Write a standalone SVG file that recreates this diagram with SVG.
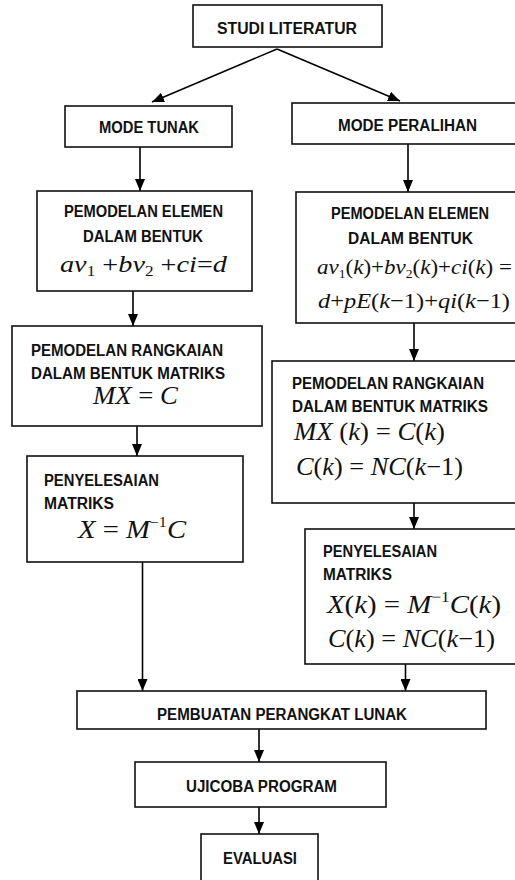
<svg xmlns="http://www.w3.org/2000/svg" width="515" height="880" viewBox="0 0 515 880">
<defs>
<marker id="ah" markerUnits="userSpaceOnUse" viewBox="0 0 12 10" refX="12" refY="5" markerWidth="12" markerHeight="10" orient="auto">
<path d="M0,0 L12,5 L0,10 z" fill="#000"/>
</marker>
</defs>
<style>
rect{fill:#fff;stroke:#111;stroke-width:1.6}
.t{font-family:"Liberation Sans",Arial,sans-serif;font-weight:bold;font-size:16px;fill:#111}
.m{font-family:"Liberation Serif","Times New Roman",serif;fill:#111}
.i{font-style:italic}
.c line{stroke:#000;stroke-width:1.6;marker-end:url(#ah)}
</style>
<rect width="515" height="880" style="fill:#fff;stroke:none"/>
<g class="c" id="connectors">
<line x1="277" y1="49" x2="152" y2="102"/>
<line x1="277" y1="49" x2="400" y2="101"/>
<line x1="140" y1="147" x2="140" y2="191"/>
<line x1="133" y1="291" x2="133" y2="326"/>
<line x1="137" y1="426" x2="137" y2="456"/>
<line x1="142.5" y1="562" x2="142.5" y2="691"/>
<line x1="408" y1="144" x2="408" y2="192"/>
<line x1="414" y1="323" x2="414" y2="361"/>
<line x1="414" y1="503" x2="414" y2="529"/>
<line x1="405.5" y1="664" x2="405.5" y2="691"/>
<line x1="259" y1="729" x2="259" y2="762"/>
<line x1="259" y1="807" x2="259" y2="834"/>
</g>
<g id="studi">
<rect x="193" y="5" width="189" height="42"/>
<text class="t" x="217" y="34" textLength="140" lengthAdjust="spacingAndGlyphs">STUDI LITERATUR</text>
</g>
<g id="tunak">
<rect x="65" y="106" width="167" height="41"/>
<text class="t" x="99" y="133" textLength="100" lengthAdjust="spacingAndGlyphs">MODE TUNAK</text>
</g>
<g id="peralihan">
<rect x="292" y="103" width="228" height="41"/>
<text class="t" x="338" y="131" textLength="139" lengthAdjust="spacingAndGlyphs">MODE PERALIHAN</text>
</g>
<g id="elemen-l">
<rect x="37" y="191" width="215" height="100"/>
<text class="t" x="64" y="217" textLength="159" lengthAdjust="spacingAndGlyphs">PEMODELAN ELEMEN</text>
<text class="t" x="83" y="242" textLength="120" lengthAdjust="spacingAndGlyphs">DALAM BENTUK</text>
<text class="m" x="60" y="272" font-size="23" textLength="167" lengthAdjust="spacingAndGlyphs"><tspan class="i">av</tspan><tspan font-size="14" dy="4">1</tspan><tspan dy="-4"> +</tspan><tspan class="i">bv</tspan><tspan font-size="14" dy="4">2</tspan><tspan dy="-4"> +</tspan><tspan class="i">ci</tspan>=<tspan class="i">d</tspan></text>
</g>
<g id="rangkaian-l">
<rect x="12" y="326" width="250" height="100"/>
<text class="t" x="31" y="356" textLength="192" lengthAdjust="spacingAndGlyphs">PEMODELAN RANGKAIAN</text>
<text class="t" x="31" y="379" textLength="194" lengthAdjust="spacingAndGlyphs">DALAM BENTUK MATRIKS</text>
<text class="m" x="93" y="404" font-size="25" textLength="85" lengthAdjust="spacingAndGlyphs"><tspan class="i">MX</tspan> = <tspan class="i">C</tspan></text>
</g>
<g id="penyelesaian-l">
<rect x="27" y="456" width="216" height="106"/>
<text class="t" x="44" y="486" textLength="115" lengthAdjust="spacingAndGlyphs">PENYELESAIAN</text>
<text class="t" x="44" y="509" textLength="70" lengthAdjust="spacingAndGlyphs">MATRIKS</text>
<text class="m" x="78" y="538" font-size="25" textLength="108" lengthAdjust="spacingAndGlyphs"><tspan class="i">X</tspan> = <tspan class="i">M</tspan><tspan font-size="14" dy="-11">−1</tspan><tspan class="i" dy="11">C</tspan></text>
</g>
<g id="elemen-r">
<rect x="296" y="192" width="224" height="131"/>
<text class="t" x="331" y="219" textLength="158" lengthAdjust="spacingAndGlyphs">PEMODELAN ELEMEN</text>
<text class="t" x="348" y="244" textLength="125" lengthAdjust="spacingAndGlyphs">DALAM  BENTUK</text>
<text class="m" x="317" y="274" font-size="22" textLength="195" lengthAdjust="spacingAndGlyphs"><tspan class="i">av</tspan><tspan font-size="13" dy="4">1</tspan><tspan dy="-4">(</tspan><tspan class="i">k</tspan>)+<tspan class="i">bv</tspan><tspan font-size="13" dy="4">2</tspan><tspan dy="-4">(</tspan><tspan class="i">k</tspan>)+<tspan class="i">ci</tspan>(<tspan class="i">k</tspan>) =</text>
<text class="m" x="318" y="308" font-size="22" textLength="192" lengthAdjust="spacingAndGlyphs"><tspan class="i">d</tspan>+<tspan class="i">pE</tspan>(<tspan class="i">k</tspan>−1)+<tspan class="i">qi</tspan>(<tspan class="i">k</tspan>−1)</text>
</g>
<g id="rangkaian-r">
<rect x="272" y="361" width="248" height="142"/>
<text class="t" x="292" y="389" textLength="192" lengthAdjust="spacingAndGlyphs">PEMODELAN RANGKAIAN</text>
<text class="t" x="292" y="412" textLength="196" lengthAdjust="spacingAndGlyphs">DALAM BENTUK MATRIKS</text>
<text class="m" x="294" y="440" font-size="25" textLength="151" lengthAdjust="spacingAndGlyphs"><tspan class="i">MX</tspan> (<tspan class="i">k</tspan>) = <tspan class="i">C</tspan>(<tspan class="i">k</tspan>)</text>
<text class="m" x="296" y="475" font-size="25" textLength="167" lengthAdjust="spacingAndGlyphs"><tspan class="i">C</tspan>(<tspan class="i">k</tspan>) = <tspan class="i">NC</tspan>(<tspan class="i">k</tspan>−1)</text>
</g>
<g id="penyelesaian-r">
<rect x="305" y="529" width="215" height="135"/>
<text class="t" x="323" y="557" textLength="114" lengthAdjust="spacingAndGlyphs">PENYELESAIAN</text>
<text class="t" x="323" y="580" textLength="69" lengthAdjust="spacingAndGlyphs">MATRIKS</text>
<text class="m" x="327" y="613" font-size="25" textLength="174" lengthAdjust="spacingAndGlyphs"><tspan class="i">X</tspan>(<tspan class="i">k</tspan>) = <tspan class="i">M</tspan><tspan font-size="15" dy="-11">−1</tspan><tspan class="i" dy="11">C</tspan>(<tspan class="i">k</tspan>)</text>
<text class="m" x="328" y="647" font-size="25" textLength="167" lengthAdjust="spacingAndGlyphs"><tspan class="i">C</tspan>(<tspan class="i">k</tspan>) = <tspan class="i">NC</tspan>(<tspan class="i">k</tspan>−1)</text>
</g>
<g id="pembuatan">
<rect x="77" y="691" width="409" height="38"/>
<text class="t" x="157" y="720" textLength="250" lengthAdjust="spacingAndGlyphs">PEMBUATAN PERANGKAT LUNAK</text>
</g>
<g id="ujicoba">
<rect x="135" y="762" width="251" height="45"/>
<text class="t" x="186" y="792" textLength="151" lengthAdjust="spacingAndGlyphs">UJICOBA PROGRAM</text>
</g>
<g id="evaluasi">
<rect x="201" y="834" width="117" height="60"/>
<text class="t" x="223" y="864" textLength="74" lengthAdjust="spacingAndGlyphs">EVALUASI</text>
</g>
</svg>
